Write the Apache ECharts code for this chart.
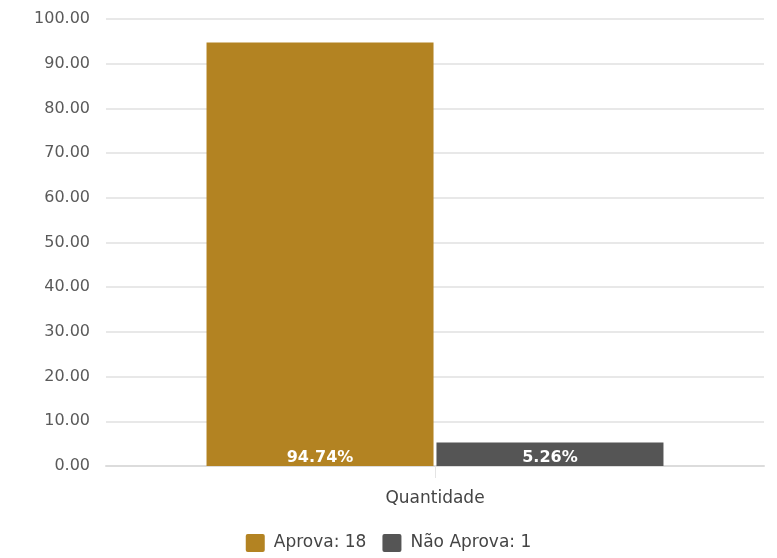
<!DOCTYPE html>
<html><head><meta charset="utf-8">
<script src="https://cdn.jsdelivr.net/npm/echarts@6/dist/echarts.min.js"></script>
<style>html,body{margin:0;padding:0;background:#fff}#c{width:777px;height:558px}</style>
</head><body><div id="c"></div>
<script>
const categories = ['Quantidade'];
const seriesNames = ['Aprova: 18', 'Não Aprova: 1'];
const aprovaValues = [94.74];
const naoAprovaValues = [5.26];
const yTicks = [0, 10, 20, 30, 40, 50, 60, 70, 80, 90, 100];
const colors = ['#b38322', '#555555'];

const FONT = 'DejaVu Sans, Liberation Sans, Arial';
const chart = echarts.init(document.getElementById('c'));
const labelOpt = {
  show: true, position: 'insideBottom', distance: 0,
  color: '#fff', fontWeight: 'bold', fontSize: 16, fontFamily: FONT,
  formatter: p => p.value.toFixed(2) + '%'
};
chart.setOption({
  animation: false,
  color: colors,
  textStyle: { fontFamily: FONT },
  grid: { left: 106, right: 13, top: 19, bottom: 92, containLabel: false },
  legend: {
    bottom: 1, left: 'center', itemWidth: 19, itemHeight: 18, itemGap: 16,
    icon: 'path://M2,0 H17 Q19,0 19,2 V16 Q19,18 17,18 H2 Q0,18 0,16 V2 Q0,0 2,0 Z',
    textStyle: { color: '#444', fontSize: 17, fontFamily: FONT, padding: [0, 0, 0, 4] },
    data: seriesNames
  },
  xAxis: {
    type: 'category', data: categories,
    axisLine: { lineStyle: { color: '#dcdcdc', width: 2 } },
    axisTick: { show: true, alignWithLabel: true, length: 12, lineStyle: { color: '#e4e4e4' } },
    axisLabel: { color: '#444', fontSize: 17, margin: 24, fontFamily: FONT }
  },
  yAxis: {
    type: 'value', min: yTicks[0], max: yTicks[yTicks.length - 1], interval: 10,
    axisLine: { show: false }, axisTick: { show: false },
    axisLabel: { color: '#5a5a5a', fontSize: 16, margin: 16, fontFamily: FONT, formatter: v => v.toFixed(2) },
    splitLine: { lineStyle: { color: '#e8e8e8', width: 2 } }
  },
  series: [
    { name: seriesNames[0], type: 'bar', data: aprovaValues, barWidth: 227, barGap: '1.3%', label: labelOpt },
    { name: seriesNames[1], type: 'bar', data: naoAprovaValues, barWidth: 227, label: labelOpt }
  ]
});
</script></body></html>
